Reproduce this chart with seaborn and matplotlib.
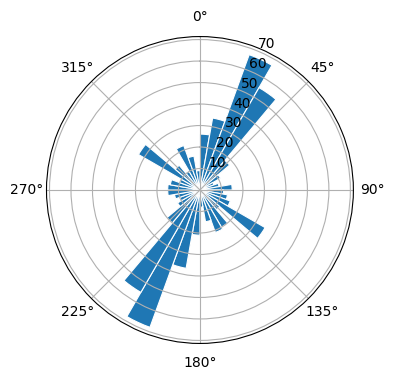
import numpy as np
import seaborn as sns
import matplotlib.pyplot as plt

# wind direction bins (degrees, left edge) and counts per bin
dir_bins = np.arange(0, 360, 10)
counts = [26, 34, 67, 55, 18, 11, 7, 9, 15, 11, 13, 15,
          35, 12, 20, 21, 15, 8, 21, 37, 68, 55, 20, 12,
          10, 12, 15, 15, 14, 10, 33, 15, 10, 22, 16, 9]
r_ticks = [10, 20, 30, 40, 50, 60, 70]

blue = sns.color_palette('tab10')[0]

fig = plt.figure(figsize=(3.96, 3.8), dpi=100)
ax = fig.add_axes([0.1174, 0.096, 0.775, 0.808], projection='polar')
ax.set_theta_zero_location('N')
ax.set_theta_direction(-1)

theta = np.deg2rad(dir_bins)
ax.bar(theta, counts, width=np.deg2rad(10), align='edge',
       color=blue, edgecolor='white', linewidth=0.8)
ax.set_rticks(r_ticks)

plt.savefig('out.png', dpi=100)
